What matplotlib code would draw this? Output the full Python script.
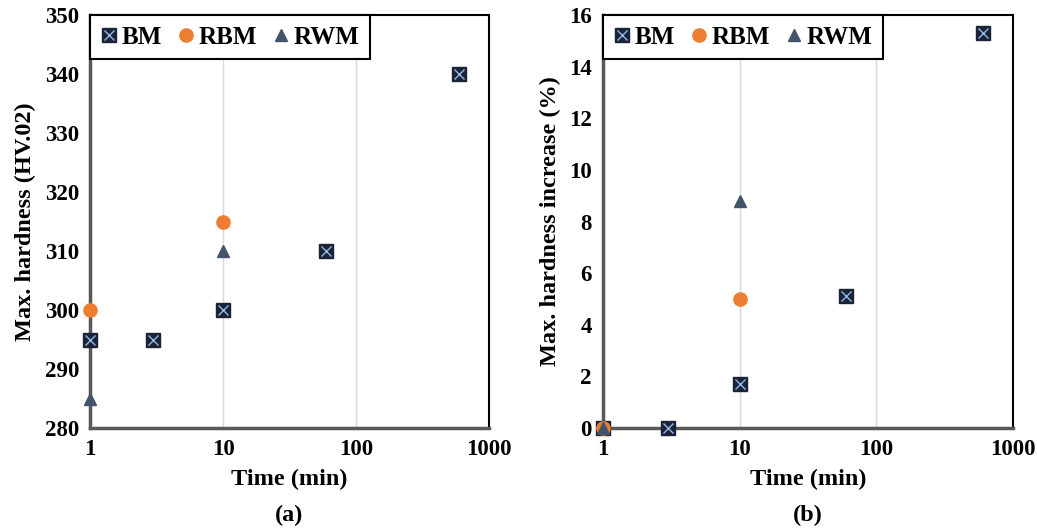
import matplotlib
matplotlib.use("Agg")
import matplotlib.pyplot as plt
from matplotlib.lines import Line2D
from matplotlib.legend_handler import HandlerTuple

plt.rcParams['font.family'] = ['Liberation Serif', 'DejaVu Serif']
plt.rcParams['font.weight'] = 'bold'

# Data panel (a)
bm_t = [1, 3, 10, 60, 600]
bm_hv = [295, 295, 300, 310, 340]
rbm_t = [1, 10]
rbm_hv = [300, 315]
rwm_t = [1, 10]
rwm_hv = [285, 310]

# Data panel (b)
bm_inc = [0, 0, 1.7, 5.1, 15.3]
rbm_inc = [0, 5.0]
rwm_inc = [0, 8.8]

yticks_a = [280, 290, 300, 310, 320, 330, 340, 350]
yticks_b = [0, 2, 4, 6, 8, 10, 12, 14, 16]
xticks = [1, 10, 100, 1000]

C_BM = '#1b2436'
C_BMX = '#8fb6e8'
C_RBM = '#ED7D31'
C_RWM = '#44546A'

fig = plt.figure(figsize=(10.37, 5.31), dpi=100)
ax1 = fig.add_axes([90/1037, 103/531, 399/1037, 413/531])
ax2 = fig.add_axes([603/1037, 103/531, 410/1037, 413/531])


def draw(ax, ybm, yrbm, yrwm, ylim, yticks, ylabel, tag):
    ax.set_xscale('log')
    ax.set_xlim(1, 1000)
    ax.set_ylim(*ylim)
    for xv in [10, 100]:
        ax.axvline(xv, color='#d9d9d9', lw=1, zorder=0)
    ax.plot(bm_t, ybm, ls='none', marker='s', ms=9.5, mfc=C_BM, mec=C_BM, clip_on=False, zorder=3)
    ax.plot(bm_t, ybm, ls='none', marker='x', ms=6.5, mew=1, color=C_BMX, clip_on=False, zorder=3)
    ax.plot(rbm_t, yrbm, ls='none', marker='o', ms=9.5, mfc=C_RBM, mec=C_RBM, clip_on=False, zorder=4)
    ax.plot(rwm_t, yrwm, ls='none', marker='^', ms=8.5, mfc=C_RWM, mec=C_RWM, clip_on=False, zorder=5)
    ax.set_xticks(xticks)
    ax.set_xticklabels([str(v) for v in xticks])
    ax.minorticks_off()
    ax.set_yticks(yticks)
    ax.set_yticklabels([str(v) for v in yticks])
    ax.tick_params(length=0, labelsize=16.5, pad=8)
    for lab in ax.get_xticklabels() + ax.get_yticklabels():
        lab.set_fontweight('bold')
    for s in ['left', 'bottom']:
        ax.spines[s].set_color('#595959')
        ax.spines[s].set_linewidth(2.5)
    for s in ['top', 'right']:
        ax.spines[s].set_color('black')
        ax.spines[s].set_linewidth(1.5)
    ax.set_xlabel('Time (min)', fontsize=17.5, fontweight='bold', labelpad=6)
    ax.set_ylabel(ylabel, fontsize=17.5, fontweight='bold', labelpad=6)
    ax.text(0.5, -0.212, tag, transform=ax.transAxes, ha='center', va='center', fontsize=17.5, fontweight='bold')

    h_bm = (Line2D([], [], ls='none', marker='s', ms=9.5, mfc=C_BM, mec=C_BM),
            Line2D([], [], ls='none', marker='x', ms=6.5, mew=1, color=C_BMX))
    h_rbm = Line2D([], [], ls='none', marker='o', ms=9.5, mfc=C_RBM, mec=C_RBM)
    h_rwm = Line2D([], [], ls='none', marker='^', ms=8.5, mfc=C_RWM, mec=C_RWM)
    leg = ax.legend([h_bm, h_rbm, h_rwm], ['BM', 'RBM', 'RWM'], loc='upper left',
                    bbox_to_anchor=(0, 1), borderaxespad=0, ncol=3, frameon=True,
                    fancybox=False, edgecolor='black', framealpha=1,
                    prop={'size': 18, 'weight': 'bold'}, handlelength=0.7,
                    handletextpad=0.15, columnspacing=0.6, borderpad=0.42,
                    handler_map={tuple: HandlerTuple(ndivide=1, pad=0)})
    leg.get_frame().set_linewidth(1.5)
    leg.set_zorder(6)


draw(ax1, bm_hv, rbm_hv, rwm_hv, (280, 350), yticks_a, 'Max. hardness (HV.02)', '(a)')
draw(ax2, bm_inc, rbm_inc, rwm_inc, (0, 16), yticks_b, 'Max. hardness increase (%)', '(b)')

fig.savefig('out.png', dpi=100)
